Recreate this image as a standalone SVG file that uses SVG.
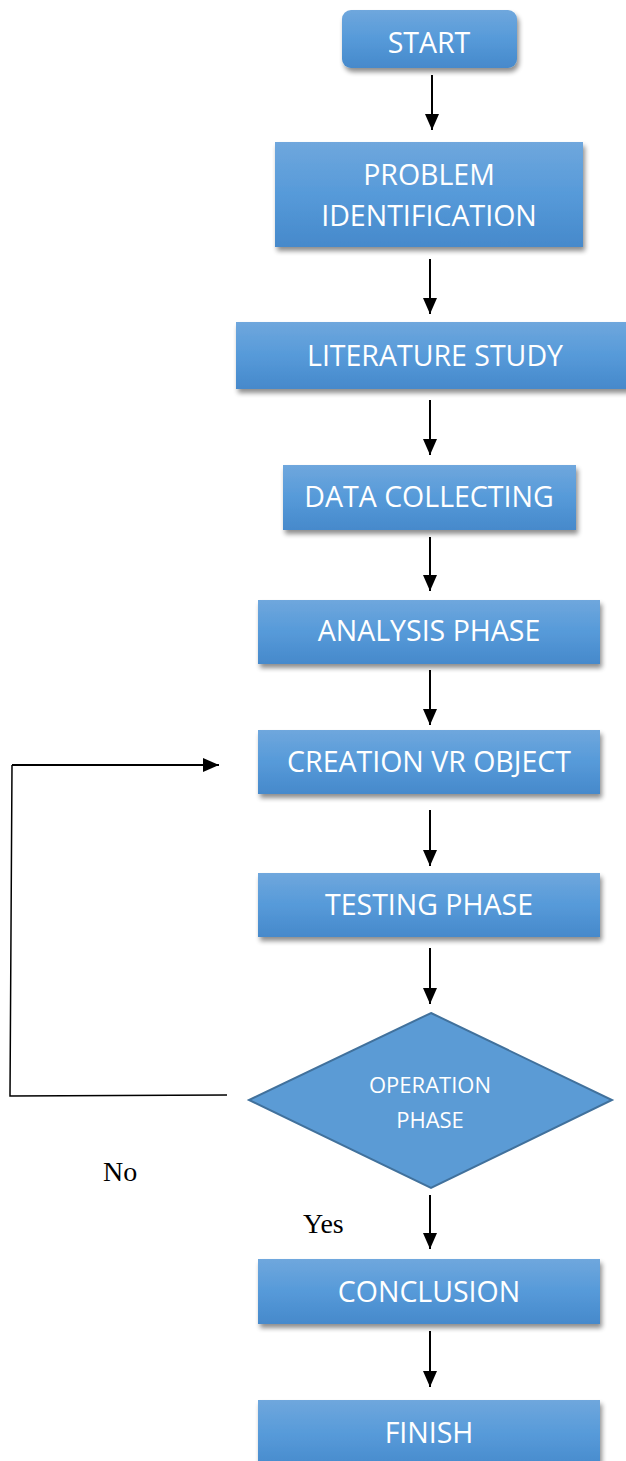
<svg xmlns="http://www.w3.org/2000/svg" width="626" height="1461" viewBox="0 0 626 1461">
<defs>
<linearGradient id="g" x1="0" y1="0" x2="0" y2="1">
<stop offset="0" stop-color="#6fa7dd"/>
<stop offset="0.5" stop-color="#569ad9"/>
<stop offset="1" stop-color="#4689cb"/>
</linearGradient>
<filter id="sh" x="-10%" y="-20%" width="125%" height="150%">
<feGaussianBlur in="SourceAlpha" stdDeviation="2.5"/>
<feOffset dx="2" dy="4" result="b"/>
<feComponentTransfer><feFuncA type="linear" slope="0.45"/></feComponentTransfer>
<feMerge><feMergeNode/><feMergeNode in="SourceGraphic"/></feMerge>
</filter>
<marker id="ah2" viewBox="0 0 16 16" refX="16" refY="8" markerWidth="16" markerHeight="16" orient="auto" markerUnits="userSpaceOnUse">
<path d="M0,1 L16,8 L0,15 z" fill="#000"/>
</marker>
</defs>
<style>
.box{fill:url(#g);filter:url(#sh)}
.t{font-family:"Open Sans","Noto Sans",sans-serif;font-size:28.5px;fill:#fff;text-anchor:middle}
.dt{font-family:"Open Sans","Noto Sans",sans-serif;font-size:22px;fill:#fff;text-anchor:middle}
.c{stroke:#000;stroke-width:2;fill:none}
.lbl{font-family:"Liberation Serif",serif;font-size:28px;fill:#000}
</style>
<rect width="626" height="1461" fill="#fff"/>
<g id="start"><rect class="box" x="342" y="10" width="175" height="58" rx="9"/><text class="t" x="429" y="53">START</text></g>
<g id="problem"><rect class="box" x="275" y="142" width="308" height="105"/><text class="t" x="429" y="185">PROBLEM</text><text class="t" x="429" y="226">IDENTIFICATION</text></g>
<g id="literature"><rect class="box" x="236" y="322" width="400" height="67"/><text class="t" x="435" y="366">LITERATURE STUDY</text></g>
<g id="data"><rect class="box" x="283" y="465" width="293" height="65"/><text class="t" x="429" y="507">DATA COLLECTING</text></g>
<g id="analysis"><rect class="box" x="258" y="600" width="342" height="64"/><text class="t" x="429" y="641">ANALYSIS PHASE</text></g>
<g id="creation"><rect class="box" x="258" y="730" width="342" height="64"/><text class="t" x="429" y="772">CREATION VR OBJECT</text></g>
<g id="testing"><rect class="box" x="258" y="873" width="342" height="64"/><text class="t" x="429" y="915">TESTING PHASE</text></g>
<g id="operation"><polygon points="431,1013 612,1100 431,1188 249,1100" fill="#5b9bd5" stroke="#41719c" stroke-width="2"/><text class="dt" x="430" y="1093">OPERATION</text><text class="dt" x="430" y="1128">PHASE</text></g>
<g id="conclusion"><rect class="box" x="258" y="1259" width="342" height="65"/><text class="t" x="429" y="1302">CONCLUSION</text></g>
<g id="finish"><rect class="box" x="258" y="1400" width="342" height="70"/><text class="t" x="429" y="1443">FINISH</text></g>
<g id="connectors">
<line class="c" x1="432" y1="75" x2="432" y2="130" marker-end="url(#ah2)"/>
<line class="c" x1="430" y1="259" x2="430" y2="314" marker-end="url(#ah2)"/>
<line class="c" x1="430" y1="400" x2="430" y2="455" marker-end="url(#ah2)"/>
<line class="c" x1="430" y1="537" x2="430" y2="591" marker-end="url(#ah2)"/>
<line class="c" x1="430" y1="670" x2="430" y2="725" marker-end="url(#ah2)"/>
<line class="c" x1="430" y1="810" x2="430" y2="866" marker-end="url(#ah2)"/>
<line class="c" x1="430" y1="948" x2="430" y2="1004" marker-end="url(#ah2)"/>
<line class="c" x1="430" y1="1195" x2="430" y2="1249" marker-end="url(#ah2)"/>
<line class="c" x1="430" y1="1331" x2="430" y2="1387" marker-end="url(#ah2)"/>
<polyline fill="none" stroke="#000" stroke-width="1.5" points="227,1095 10,1096 12,765"/>
<line class="c" x1="12" y1="765" x2="219" y2="765" marker-end="url(#ah2)"/>
</g>
<text class="lbl" x="103" y="1181">No</text>
<text class="lbl" x="303" y="1233">Yes</text>
</svg>
